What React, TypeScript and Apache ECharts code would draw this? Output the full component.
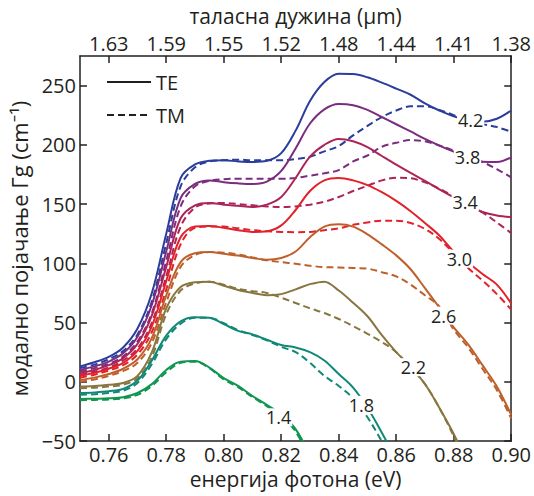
import React, { useEffect, useRef } from "react";
import * as echarts from "echarts";

// photon energy (eV) sample points
const energy = [
  0.75, 0.755, 0.76, 0.765, 0.77, 0.775, 0.78, 0.785, 0.79, 0.795, 0.8, 0.805,
  0.81, 0.815, 0.82, 0.825, 0.83, 0.835, 0.84, 0.845, 0.85, 0.855, 0.86, 0.865,
  0.87, 0.875, 0.88, 0.885, 0.89, 0.895, 0.9,
];

// modal gain Γg (cm^-1), TE (solid) and TM (dashed), per current density
const te42 = [13, 16.5, 21, 29, 45, 75, 125, 172, 183.5, 186.5, 187, 186, 185.5, 186.5, 193, 212, 237, 253, 260, 259.8, 257, 252.5, 247.5, 242.3, 235, 229, 224, 221, 219.5, 222, 229];
const tm42 = [11.5, 14.5, 19, 26, 40, 68, 117, 165, 181, 186, 187, 187.5, 187, 187, 187, 188, 190, 194.5, 199, 208, 216, 223.5, 229, 232.5, 232.5, 229.5, 225, 220, 217.5, 215, 211];
const te38 = [10, 13, 17, 24, 38, 65, 110, 155, 167, 170, 168.5, 167.5, 167, 169, 178, 197, 218, 230, 234.5, 233.5, 229.5, 223.5, 217.4, 211.3, 205, 199.4, 194.3, 189.5, 185.7, 185.5, 189.5];
const tm38 = [8.5, 11.5, 15, 21.5, 34, 58, 102, 148, 165, 169.5, 171, 171.4, 171.4, 171.4, 171.4, 172, 174, 176, 178.7, 186, 191, 198.4, 201.7, 204, 203, 199.5, 195, 190, 185.5, 179.5, 172.5];
const te34 = [7.5, 10, 14, 20, 32, 56, 97, 138, 149, 151, 149.5, 148.5, 147.5, 149.5, 156, 172, 190, 200, 205, 203, 198, 190.6, 183.3, 176.3, 169.6, 162.4, 155.7, 149, 143.4, 140.4, 139];
const tm34 = [6, 8.5, 12, 18, 28, 50, 89, 131, 147, 150.5, 151, 150, 149, 148, 147.5, 148, 149.5, 152, 156, 161, 165.5, 170, 172.3, 171.8, 168.3, 163, 156.5, 150, 143, 134.5, 125.5];
const te30 = [5, 7.5, 11, 16, 26, 47, 85, 122, 131, 131.5, 130, 128, 126.5, 127, 132, 145, 161, 170, 172, 170, 166, 160, 152.7, 144, 134, 123.5, 110, 100.5, 91, 82, 66];
const tm30 = [3.5, 6, 9.5, 14, 23, 42, 78, 116, 130, 131, 131, 129.5, 128, 127, 126.5, 126.3, 126.5, 128, 129.5, 132.5, 134.5, 136, 136, 134, 129, 120.5, 108.5, 96, 85.5, 74, 61];
const te26 = [1.5, 3.5, 6.5, 11, 19, 37, 73, 101, 108.5, 109.5, 108, 106.5, 104.5, 103, 104.5, 110, 122, 131, 133, 131, 124.5, 116, 106.7, 95, 79, 62.7, 46, 31.5, 14, -4, -28];
const tm26 = [0, 2, 5, 9, 16, 33, 67, 97, 107, 109.5, 109, 107.5, 105, 102.5, 101, 99.6, 98, 96.7, 96.5, 96, 95.5, 92.5, 89, 82, 73, 63.5, 44, 29, 11, -7, -31];
const te22 = [-4, -3.5, -2.5, -1, 5, 25, 62, 80, 84, 84.5, 81, 77.5, 75, 73, 74, 78, 82.4, 84.5, 77, 66.7, 55.3, 39.3, 25, 12.6, -1.9, -22, -44, -70];
const tm22 = [-5.5, -5, -4, -2.5, 3, 21, 57, 77, 83, 84.5, 82, 78.5, 76.5, 75, 71, 66.5, 62, 58, 53, 47, 40.5, 33.5, 25, 12.2, -2, -22, -46, -72];
const te18 = [-9.5, -9, -8, -6, 1, 18, 39, 51, 54.5, 54, 48.7, 43, 40, 35.5, 31, 29, 25, 18, 6.5, -5, -22, -43, -66];
const tm18 = [-11, -10.5, -9.5, -7.5, -1, 15, 36, 49, 54, 54, 49.5, 43.5, 39.5, 35, 29.5, 25, 16, 5, -3.5, -14, -30, -50.5, -75];
const te14 = [-14.5, -14.3, -14, -13, -9.5, -2, 10, 17, 17.5, 12, 3, -3.5, -12, -19.5, -27.5, -40, -62];
const tm14 = [-15.5, -15.3, -15, -14, -11, -3.5, 8, 16, 17, 11.5, 2, -4.5, -13, -20.5, -29, -42, -65];

// curve annotations (current density labels) and their anchor points
const curveLabels = ["4.2", "3.8", "3.4", "3.0", "2.6", "2.2", "1.8", "1.4"];
const curveLabelEnergy = [0.8859, 0.8848, 0.884, 0.882, 0.8765, 0.866, 0.8479, 0.8191];
const curveLabelGain = [220.8, 189.8, 151.4, 104, 55.8, 12.3, -19.5, -30];

// axes ticks
const energyTicks = [0.76, 0.78, 0.8, 0.82, 0.84, 0.86, 0.88, 0.9];
const wavelengthTicks = ["1.63", "1.59", "1.55", "1.52", "1.48", "1.44", "1.41", "1.38"];
const gainTicks = [-50, 0, 50, 100, 150, 200, 250];

const curves = [
  { label: "4.2", te: te42, tm: tm42, color: "#2b3d9b" },
  { label: "3.8", te: te38, tm: tm38, color: "#7a2c7e" },
  { label: "3.4", te: te34, tm: tm34, color: "#ad2458" },
  { label: "3.0", te: te30, tm: tm30, color: "#e1222b" },
  { label: "2.6", te: te26, tm: tm26, color: "#bf5f2c" },
  { label: "2.2", te: te22, tm: tm22, color: "#877640" },
  { label: "1.8", te: te18, tm: tm18, color: "#0f8876" },
  { label: "1.4", te: te14, tm: tm14, color: "#0f9550" },
];

const FONT = "'Open Sans', 'Noto Sans', sans-serif";
const INK = "#231f20";
const DASH = [7, 4];
const CLEAR = "rgba(0,0,0,0)";

const toPairs = (vals: number[]) => vals.map((v, i) => [energy[i], v]);

export default function App() {
  const ref = useRef<HTMLDivElement>(null);

  useEffect(() => {
    if (!ref.current) return;
    const chart = echarts.init(ref.current, null, { renderer: "svg" });

    const axisLine = { show: true, onZero: false, lineStyle: { color: INK, width: 1.5 } };
    const tick = (vals: number[]) => ({
      show: true,
      inside: true,
      length: 7,
      lineStyle: { color: INK, width: 1.5 },
      customValues: vals,
    });

    const series: any[] = [];
    curves.forEach((c) => {
      series.push({
        name: "TM " + c.label,
        type: "line",
        data: toPairs(c.tm),
        symbol: "none",
        showSymbol: false,
        smooth: 0.35,
        z: 2,
        lineStyle: { color: c.color, width: 2, type: DASH },
      });
      series.push({
        name: "TE " + c.label,
        type: "line",
        data: toPairs(c.te),
        symbol: "none",
        showSymbol: false,
        smooth: 0.35,
        z: 3,
        lineStyle: { color: c.color, width: 2, type: "solid" },
      });
    });
    // legend-only series
    series.push({
      name: "TE",
      type: "line",
      data: [],
      symbol: "none",
      lineStyle: { color: INK, width: 2, type: "solid" },
      itemStyle: { color: CLEAR },
    });
    series.push({
      name: "TM",
      type: "line",
      data: [],
      symbol: "none",
      lineStyle: { color: INK, width: 2, type: DASH },
      itemStyle: { color: CLEAR },
    });
    // curve labels
    series.push({
      name: "labels",
      type: "scatter",
      data: curveLabels.map((t, i) => ({ value: [curveLabelEnergy[i], curveLabelGain[i]], name: t })),
      symbol: "circle",
      symbolSize: 2,
      itemStyle: { color: CLEAR, opacity: 1 },
      z: 10,
      silent: true,
      label: {
        show: true,
        position: "inside",
        formatter: (p: any) => p.name,
        fontFamily: FONT,
        fontSize: 18,
        color: INK,
        opacity: 1,
        backgroundColor: "#ffffff",
        padding: [0, 1],
      },
    });

    chart.setOption({
      animation: false,
      backgroundColor: "#ffffff",
      textStyle: { fontFamily: FONT, color: INK },
      grid: { left: 80, right: 20, top: 55, bottom: 55, containLabel: false },
      legend: {
        data: ["TE", "TM"],
        orient: "vertical",
        left: 106,
        top: 72,
        padding: 0,
        itemWidth: 44,
        itemHeight: 14,
        itemGap: 13,
        itemStyle: { opacity: 0 },
        textStyle: { fontFamily: FONT, fontSize: 20, color: INK },
        selectedMode: false,
      },
      xAxis: [
        {
          type: "value",
          position: "bottom",
          min: 0.75,
          max: 0.9,
          name: "енергија фотона (eV)",
          nameLocation: "middle",
          nameGap: 27,
          nameTextStyle: { fontFamily: FONT, fontSize: 21, color: INK },
          axisLine,
          axisTick: tick(energyTicks),
          axisLabel: {
            customValues: energyTicks,
            formatter: (v: number) => v.toFixed(2),
            fontFamily: FONT,
            fontSize: 20,
            color: INK,
            margin: 3,
          },
          splitLine: { show: false },
        },
        {
          type: "value",
          position: "top",
          min: 0.75,
          max: 0.9,
          name: "таласна дужина (μm)",
          nameLocation: "middle",
          nameGap: 30,
          nameTextStyle: { fontFamily: FONT, fontSize: 21, color: INK },
          axisLine,
          axisTick: tick(energyTicks),
          axisLabel: {
            customValues: energyTicks,
            formatter: (v: number) => {
              const i = energyTicks.findIndex((e) => Math.abs(e - v) < 1e-6);
              return i >= 0 ? wavelengthTicks[i] : "";
            },
            fontFamily: FONT,
            fontSize: 20,
            color: INK,
            margin: 3,
          },
          splitLine: { show: false },
        },
      ],
      yAxis: [
        {
          type: "value",
          position: "left",
          min: -50,
          max: 275,
          name: "модално појачање Γg (cm⁻¹)",
          nameLocation: "middle",
          nameGap: 50,
          nameTextStyle: { fontFamily: FONT, fontSize: 22, color: INK },
          axisLine,
          axisTick: tick(gainTicks),
          axisLabel: {
            customValues: gainTicks,
            formatter: (v: number) => String(v).replace("-", "−"),
            fontFamily: FONT,
            fontSize: 20,
            color: INK,
            margin: 4,
          },
          splitLine: { show: false },
        },
        {
          type: "value",
          position: "right",
          min: -50,
          max: 275,
          axisLine,
          axisTick: tick(gainTicks),
          axisLabel: { show: false },
          splitLine: { show: false },
        },
      ],
      series,
    });

    return () => chart.dispose();
  }, []);

  return (
    <div
      ref={ref}
      style={{ position: "fixed", left: 0, top: 0, width: 534, height: 496, background: "#fff" }}
    />
  );
}
